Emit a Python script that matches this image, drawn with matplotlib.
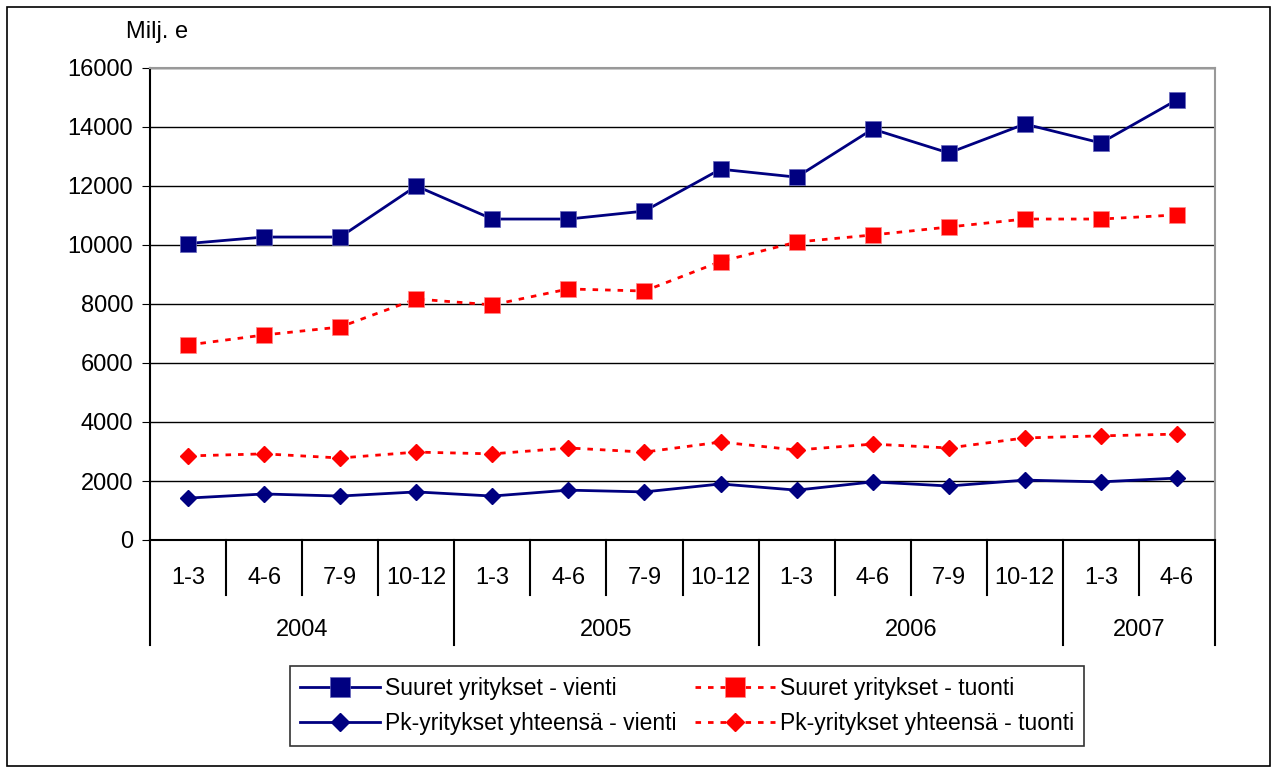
import matplotlib.pyplot as plt
import matplotlib.transforms as mtransforms
from matplotlib.patches import Rectangle

plt.rcParams["font.family"] = ["Liberation Sans", "DejaVu Sans"]

# ---------------- data ----------------
quarters = ["1-3", "4-6", "7-9", "10-12", "1-3", "4-6", "7-9", "10-12",
            "1-3", "4-6", "7-9", "10-12", "1-3", "4-6"]
years = ["2004", "2005", "2006", "2007"]
year_sizes = [4, 4, 4, 2]

suuret_vienti = [10050, 10270, 10270, 12000, 10880, 10880, 11150, 12570,
                 12300, 13930, 13120, 14100, 13460, 14920]
suuret_tuonti = [6610, 6950, 7220, 8170, 7970, 8510, 8440, 9440,
                 10100, 10340, 10610, 10880, 10880, 11020]
pk_vienti = [1420, 1560, 1490, 1630, 1490, 1690, 1630, 1900,
             1690, 1970, 1830, 2030, 1970, 2100]
pk_tuonti = [2850, 2920, 2780, 2980, 2920, 3120, 2980, 3320,
             3050, 3250, 3120, 3460, 3530, 3590]

navy = "#000080"
red = "#ff0000"
FS = 17

# ---------------- figure ----------------
W, H = 1277, 771
fig = plt.figure(figsize=(W / 100, H / 100), dpi=100)
fig.patches.append(Rectangle((7 / W, 5 / H), 1263 / W, 759 / H, transform=fig.transFigure,
                             fill=False, edgecolor="black", linewidth=1.2))

ax = fig.add_axes([150 / W, (H - 540) / H, 1065 / W, 472 / H])
x = list(range(len(quarters)))

l1, = ax.plot(x, suuret_vienti, color=navy, lw=2, marker="s", ms=12, mec="#6666bb", mew=0.5,
              label="Suuret yritykset - vienti")
l2, = ax.plot(x, suuret_tuonti, color=red, lw=2, ls=(0, (2, 2.5)), marker="s", ms=12, mec="#ff8888",
              mew=0.5, label="Suuret yritykset - tuonti")
l3, = ax.plot(x, pk_vienti, color=navy, lw=2, marker="D", ms=8,
              label="Pk-yritykset yhteensä - vienti")
l4, = ax.plot(x, pk_tuonti, color=red, lw=2, ls=(0, (2, 2.5)), marker="D", ms=8,
              label="Pk-yritykset yhteensä - tuonti")

ax.set_xlim(-0.5, len(quarters) - 0.5)
ax.set_ylim(0, 16000)
ax.set_yticks(range(0, 16001, 2000))
ax.tick_params(axis="y", labelsize=FS, length=6, direction="out", pad=6)
ax.set_xticks([])
ax.yaxis.grid(True, color="black", lw=1)
ax.set_axisbelow(True)

for s in ["top", "right"]:
    ax.spines[s].set_color("#999999")
    ax.spines[s].set_linewidth(1.5)
ax.spines["left"].set_linewidth(1.5)
ax.spines["bottom"].set_linewidth(1.5)

fig.text(157 / W, 1 - 32 / H, "Milj. e", fontsize=FS, ha="center", va="center")

# ---------------- category axis (quarters + years) ----------------
trans = mtransforms.blended_transform_factory(ax.transData, ax.transAxes)
for i, q in enumerate(quarters):
    ax.text(i, -0.08, q, transform=trans, ha="center", va="center", fontsize=FS)

year_edges = [-0.5]
for n in year_sizes:
    year_edges.append(year_edges[-1] + n)

for i in range(len(quarters) + 1):
    xb = i - 0.5
    depth = -0.222 if xb in year_edges else -0.1165
    ax.plot([xb, xb], [0, depth], transform=trans, color="black", lw=1.5, clip_on=False)

for j, yr in enumerate(years):
    mid = (year_edges[j] + year_edges[j + 1]) / 2
    ax.text(mid, -0.19, yr, transform=trans, ha="center", va="center", fontsize=FS)

# ---------------- legend ----------------
leg = ax.legend([l1, l3, l2, l4], [l.get_label() for l in (l1, l3, l2, l4)],
                loc="center", bbox_to_anchor=(687 / W, (H - 706) / H), bbox_transform=fig.transFigure,
                ncol=2, fontsize=16.5, frameon=True, fancybox=False, edgecolor="black",
                handlelength=3.5, handletextpad=0.2, columnspacing=0.8, labelspacing=0.55,
                borderpad=0.45, markerscale=1.15)
leg.get_frame().set_linewidth(1.2)

fig.savefig("out.png", dpi=100)
